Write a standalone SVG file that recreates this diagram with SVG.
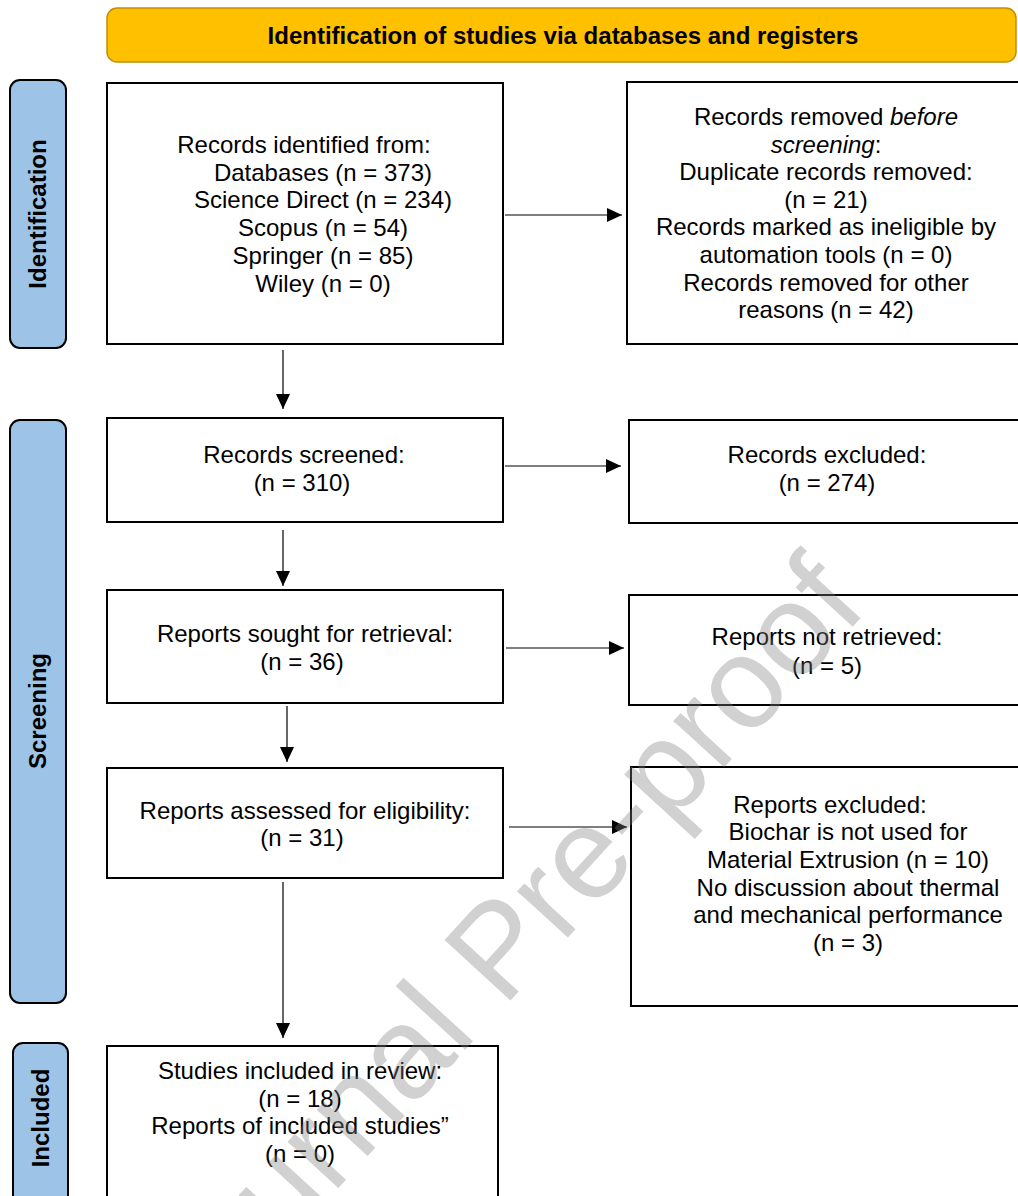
<svg xmlns="http://www.w3.org/2000/svg" width="1018" height="1196" viewBox="0 0 1018 1196">
<defs>
<style>
.t{font-family:"Liberation Sans",Arial,sans-serif;font-size:24px;fill:#000;text-anchor:middle}
.b{font-weight:bold}
.box{fill:#fff;stroke:#000;stroke-width:2}
.side{fill:#9DC3E6;stroke:#000;stroke-width:2}
.con{stroke:#000;stroke-width:1.2;fill:none;marker-end:url(#ah)}
.i{font-style:italic}
</style>
<marker id="ah" viewBox="0 0 15 14" refX="15" refY="7" markerWidth="15" markerHeight="14" markerUnits="userSpaceOnUse" orient="auto">
<path d="M0,0 L15,7 L0,14 z" fill="#000"/>
</marker>
</defs>
<rect width="1018" height="1196" fill="#fff"/>

<g id="banner">
<rect x="107" y="8" width="909" height="54" rx="10" fill="#FFC000" stroke="#BF9000" stroke-width="1.5"/>
<text class="t b" x="563" y="44">Identification of studies via databases and registers</text>
</g>

<g id="phase-identification">
<rect class="side" x="10" y="80" width="56" height="268" rx="10"/>
<text class="t b" transform="translate(46,214) rotate(-90)">Identification</text>
</g>
<g id="phase-screening">
<rect class="side" x="10" y="420" width="56" height="583" rx="10"/>
<text class="t b" transform="translate(46,711) rotate(-90)">Screening</text>
</g>
<g id="phase-included">
<rect class="side" x="13" y="1043" width="55" height="180" rx="10"/>
<text class="t b" transform="translate(49,1118) rotate(-90)">Included</text>
</g>

<g id="records-identified">
<rect class="box" x="107" y="83" width="396" height="261"/>
<text class="t" x="304" y="153">Records identified from:</text>
<text class="t" x="323" y="180.7">Databases (n = 373)</text>
<text class="t" x="323" y="208.4">Science Direct (n = 234)</text>
<text class="t" x="323" y="236.1">Scopus (n = 54)</text>
<text class="t" x="323" y="263.8">Springer (n = 85)</text>
<text class="t" x="323" y="291.5">Wiley (n = 0)</text>
</g>

<g id="records-removed">
<rect class="box" x="627" y="82" width="400" height="262"/>
<text class="t" x="826" y="125">Records removed <tspan class="i">before</tspan></text>
<text class="t" x="826" y="152.6"><tspan class="i">screening</tspan>:</text>
<text class="t" x="826" y="180.2">Duplicate records removed:</text>
<text class="t" x="826" y="207.8">(n = 21)</text>
<text class="t" x="826" y="235.4">Records marked as ineligible by</text>
<text class="t" x="826" y="263">automation tools (n = 0)</text>
<text class="t" x="826" y="290.6">Records removed for other</text>
<text class="t" x="826" y="318.2">reasons (n = 42)</text>
</g>

<g id="records-screened">
<rect class="box" x="107" y="418" width="396" height="104"/>
<text class="t" x="304" y="463">Records screened:</text>
<text class="t" x="302" y="491">(n = 310)</text>
</g>

<g id="records-excluded">
<rect class="box" x="629" y="420" width="400" height="103"/>
<text class="t" x="827" y="463">Records excluded:</text>
<text class="t" x="827" y="491">(n = 274)</text>
</g>

<g id="reports-sought">
<rect class="box" x="107" y="590" width="396" height="113"/>
<text class="t" x="305" y="642">Reports sought for retrieval:</text>
<text class="t" x="302" y="670">(n = 36)</text>
</g>

<g id="reports-not-retrieved">
<rect class="box" x="629" y="595" width="400" height="110"/>
<text class="t" x="827" y="645">Reports not retrieved:</text>
<text class="t" x="827" y="674">(n = 5)</text>
</g>

<g id="reports-assessed">
<rect class="box" x="107" y="768" width="396" height="110"/>
<text class="t" x="305" y="819">Reports assessed for eligibility:</text>
<text class="t" x="302" y="846">(n = 31)</text>
</g>

<g id="reports-excluded">
<rect class="box" x="631" y="767" width="440" height="239"/>
<text class="t" x="830" y="813">Reports excluded:</text>
<text class="t" x="848" y="840">Biochar is not used for</text>
<text class="t" x="848" y="868">Material Extrusion (n = 10)</text>
<text class="t" x="848" y="896">No discussion about thermal</text>
<text class="t" x="848" y="923">and mechanical performance</text>
<text class="t" x="848" y="951">(n = 3)</text>
</g>

<g id="studies-included">
<rect class="box" x="107" y="1046" width="391" height="170"/>
<text class="t" x="300" y="1079">Studies included in review:</text>
<text class="t" x="300" y="1107">(n = 18)</text>
<text class="t" x="300" y="1134">Reports of included studies”</text>
<text class="t" x="300" y="1162">(n = 0)</text>
</g>

<g id="connectors">
<line class="con" x1="505" y1="215" x2="622" y2="215"/>
<line class="con" x1="505" y1="466" x2="621" y2="466"/>
<line class="con" x1="506" y1="648" x2="624" y2="648"/>
<line class="con" x1="509" y1="827" x2="627" y2="827"/>
<line class="con" x1="283" y1="350" x2="283" y2="409"/>
<line class="con" x1="283" y1="530" x2="283" y2="586"/>
<line class="con" x1="287" y1="706" x2="287" y2="762"/>
<line class="con" x1="283" y1="882" x2="283" y2="1038"/>
</g>

<g id="watermark">
<text x="0" y="0" transform="translate(530,979) rotate(-47.5)" font-family="'Liberation Sans',Arial,sans-serif" font-size="130" fill="#808080" fill-opacity="0.36" text-anchor="middle">Journal Pre-proof</text>
</g>
</svg>
